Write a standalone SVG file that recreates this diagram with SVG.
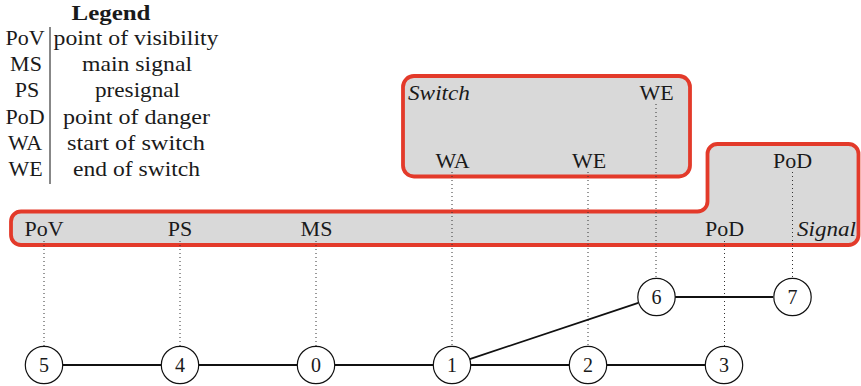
<svg xmlns="http://www.w3.org/2000/svg" width="861" height="386" viewBox="0 0 861 386">
<style>
text{font-family:"Liberation Serif","DejaVu Serif",serif;fill:#1a1a1a}
.lbl{font-size:22px;text-anchor:middle}
.it{font-size:22px;font-style:italic}
.leg{font-size:22px;text-anchor:middle}
.num{font-size:20px;text-anchor:middle}
.box{fill:#d9d9d9;stroke:#e33a2a;stroke-width:3.8;stroke-linejoin:round}
.dot{stroke:#333;stroke-width:1;stroke-dasharray:1 3;fill:none}
.edge{stroke:#111;stroke-width:1.8;fill:none}
.node circle{fill:#fff;stroke:#111;stroke-width:1.2}
</style>
<g id="legend">
<text x="111" y="19.5" class="leg" font-weight="bold" font-size="21px" textLength="79" lengthAdjust="spacingAndGlyphs">Legend</text>
<line x1="50" y1="27" x2="50" y2="184" stroke="#111" stroke-width="1"/>
<text x="25" y="45" class="leg">PoV</text>
<text x="26" y="71.2" class="leg">MS</text>
<text x="27" y="97.4" class="leg">PS</text>
<text x="25" y="123.6" class="leg">PoD</text>
<text x="25" y="149.8" class="leg">WA</text>
<text x="25.5" y="176" class="leg">WE</text>
<text x="136" y="45" class="leg" textLength="165" lengthAdjust="spacingAndGlyphs">point of visibility</text>
<text x="137" y="71.2" class="leg" textLength="110" lengthAdjust="spacingAndGlyphs">main signal</text>
<text x="137.5" y="97.4" class="leg" textLength="85" lengthAdjust="spacingAndGlyphs">presignal</text>
<text x="136.5" y="123.6" class="leg" textLength="147" lengthAdjust="spacingAndGlyphs">point of danger</text>
<text x="136" y="149.8" class="leg" textLength="138" lengthAdjust="spacingAndGlyphs">start of switch</text>
<text x="136.5" y="176" class="leg" textLength="127" lengthAdjust="spacingAndGlyphs">end of switch</text>
</g>
<g id="signal-box">
<path class="box" d="M21,211.5 H697.5 A10,10 0 0 0 707.5,201.5 V154 A10,10 0 0 1 717.5,144 H848.5 A10,10 0 0 1 858.5,154 V235 A10,10 0 0 1 848.5,245 H21 A10,10 0 0 1 11,235 V221.5 A10,10 0 0 1 21,211.5 Z"/>
<text x="797" y="236" class="it" textLength="59" lengthAdjust="spacingAndGlyphs">Signal</text>
</g>
<g id="switch-box">
<rect class="box" x="403" y="76" width="287" height="100.5" rx="11"/>
<text x="408" y="100" class="it" textLength="62" lengthAdjust="spacingAndGlyphs">Switch</text>
</g>
<g id="connectors">
<line class="dot" x1="44" y1="241" x2="44" y2="346"/>
<line class="dot" x1="180" y1="241" x2="180" y2="346"/>
<line class="dot" x1="316" y1="241" x2="316" y2="346"/>
<line class="dot" x1="452" y1="172" x2="452" y2="346"/>
<line class="dot" x1="588" y1="172" x2="588" y2="346"/>
<line class="dot" x1="656" y1="104" x2="656" y2="278"/>
<line class="dot" x1="724.5" y1="241" x2="724.5" y2="346"/>
<line class="dot" x1="792.5" y1="172" x2="792.5" y2="278"/>
<line class="edge" x1="63" y1="365" x2="161" y2="365"/>
<line class="edge" x1="199" y1="365" x2="297" y2="365"/>
<line class="edge" x1="335" y1="365" x2="433" y2="365"/>
<line class="edge" x1="471" y1="365" x2="569" y2="365"/>
<line class="edge" x1="607" y1="365" x2="705" y2="365"/>
<line class="edge" x1="469.7" y1="359.1" x2="638.3" y2="302.9"/>
<line class="edge" x1="675" y1="297" x2="773" y2="297"/>
</g>
<g id="labels">
<text x="44" y="236" class="lbl">PoV</text>
<text x="180" y="236" class="lbl">PS</text>
<text x="316.5" y="236" class="lbl">MS</text>
<text x="452.5" y="167.5" class="lbl">WA</text>
<text x="589" y="167.5" class="lbl">WE</text>
<text x="656.5" y="100" class="lbl">WE</text>
<text x="724.5" y="236" class="lbl">PoD</text>
<text x="792.5" y="167.5" class="lbl">PoD</text>
</g>
<g id="node5" class="node"><circle cx="44" cy="365" r="18.7"/><text x="44" y="372" class="num">5</text></g>
<g id="node4" class="node"><circle cx="180" cy="365" r="18.7"/><text x="180" y="372" class="num">4</text></g>
<g id="node0" class="node"><circle cx="316" cy="365" r="18.7"/><text x="316" y="372" class="num">0</text></g>
<g id="node1" class="node"><circle cx="452" cy="365" r="18.7"/><text x="452" y="372" class="num">1</text></g>
<g id="node2" class="node"><circle cx="588" cy="365" r="18.7"/><text x="588" y="372" class="num">2</text></g>
<g id="node3" class="node"><circle cx="724" cy="365" r="18.7"/><text x="724" y="372" class="num">3</text></g>
<g id="node6" class="node"><circle cx="656.5" cy="297" r="18.7"/><text x="656.5" y="304" class="num">6</text></g>
<g id="node7" class="node"><circle cx="792.5" cy="297" r="18.7"/><text x="792.5" y="304" class="num">7</text></g>
</svg>
